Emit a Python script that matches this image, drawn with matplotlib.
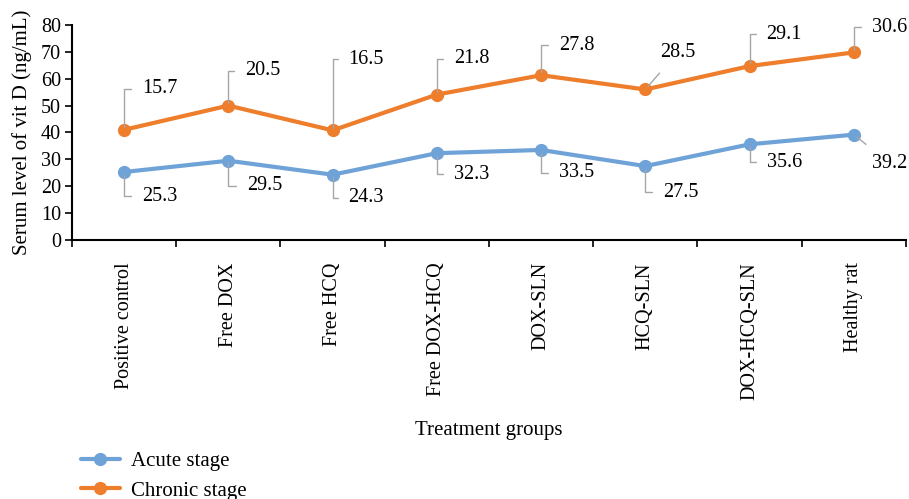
import matplotlib
matplotlib.use("Agg")
import matplotlib.pyplot as plt
import numpy as np

categories = ["Positive control", "Free DOX", "Free HCQ", "Free DOX-HCQ",
              "DOX-SLN", "HCQ-SLN", "DOX-HCQ-SLN", "Healthy rat"]
acute = [25.3, 29.5, 24.3, 32.3, 33.5, 27.5, 35.6, 39.2]
chronic = [15.7, 20.5, 16.5, 21.8, 27.8, 28.5, 29.1, 30.6]
yticks = [0, 10, 20, 30, 40, 50, 60, 70, 80]

# label placement (pixel offsets from the point, +y is up; style of leader line)
acute_off = [(18, -24), (19, -25), (16, -23), (17, -21), (18, -23), (18, -26), (17, -18), (36, -29)]
chronic_off = [(18, 41), (17, 35), (16, 71), (17, 36), (18, 30), (32, 37), (17, 32), (18, 25)]
acute_style = ["elbow"] * 7 + ["diag"]
chronic_style = ["elbow"] * 5 + ["diag"] + ["elbow"] * 2

plt.rcParams['font.family'] = ['Liberation Serif', 'DejaVu Serif']
blue = "#6FA3D8"
orange = "#EE7D2C"
gray = "#A6A6A6"

fig = plt.figure(figsize=(9.09, 4.99), dpi=100)
ax = fig.add_axes([0.0792, 0.519, 0.9175, 0.431])

x = np.arange(len(categories))
stacked = np.array(acute) + np.array(chronic)

ax.plot(x, acute, color=blue, lw=3, marker="o", ms=8.5, label="Acute stage",
        solid_capstyle="round", zorder=3)
ax.plot(x, stacked, color=orange, lw=3, marker="o", ms=8.5, label="Chronic stage",
        solid_capstyle="round", zorder=3)

ax.set_xlim(-0.5, len(categories) - 0.5)
ax.set_ylim(0, 80)
ax.set_yticks(yticks)
ax.set_yticklabels([str(t) for t in yticks], fontsize=14.5)
ax.set_xticks(np.arange(len(categories) + 1) - 0.5)
ax.set_xticklabels([])
ax.set_xticks(x, minor=True)
ax.set_xticklabels(categories, minor=True, rotation=90, fontsize=14.5, va="top")
ax.tick_params(axis="x", which="minor", length=0, pad=16)
ax.tick_params(axis="x", which="major", length=5, width=1.2, direction="out")
ax.tick_params(axis="y", length=5, width=1.2, direction="out", pad=3)
for s in ["top", "right"]:
    ax.spines[s].set_visible(False)
for s in ["left", "bottom"]:
    ax.spines[s].set_linewidth(1.5)

ax.set_ylabel("Serum level of vit D (ng/mL)", fontsize=15, labelpad=6)
ax.set_xlabel("Treatment groups", fontsize=15, labelpad=15)


def label(xi, yi, val, off, style):
    if style == "elbow":
        ax.annotate(f"{val:.1f}", xy=(xi, yi), xytext=off,
                    textcoords="offset pixels", fontsize=14.5, ha="left", va="center",
                    arrowprops=dict(arrowstyle="-", color=gray, lw=1,
                                    connectionstyle="angle,angleA=0,angleB=90,rad=0",
                                    relpos=(0, 0.5), shrinkA=6, shrinkB=2),
                    zorder=4)
    else:
        ax.annotate(f"{val:.1f}", xy=(xi, yi), xytext=off,
                    textcoords="offset pixels", fontsize=14.5, ha="center", va="center",
                    arrowprops=dict(arrowstyle="-", color=gray, lw=1,
                                    shrinkA=8, shrinkB=3),
                    zorder=4)


for i in range(len(categories)):
    label(x[i], acute[i], acute[i], acute_off[i], acute_style[i])
    label(x[i], stacked[i], chronic[i], chronic_off[i], chronic_style[i])

fig.legend(loc="lower left", bbox_to_anchor=(0.068, -0.041), frameon=False,
           fontsize=15, handlelength=1.9, labelspacing=0.49, handletextpad=0.5)

fig.savefig("out.png", dpi=100)
